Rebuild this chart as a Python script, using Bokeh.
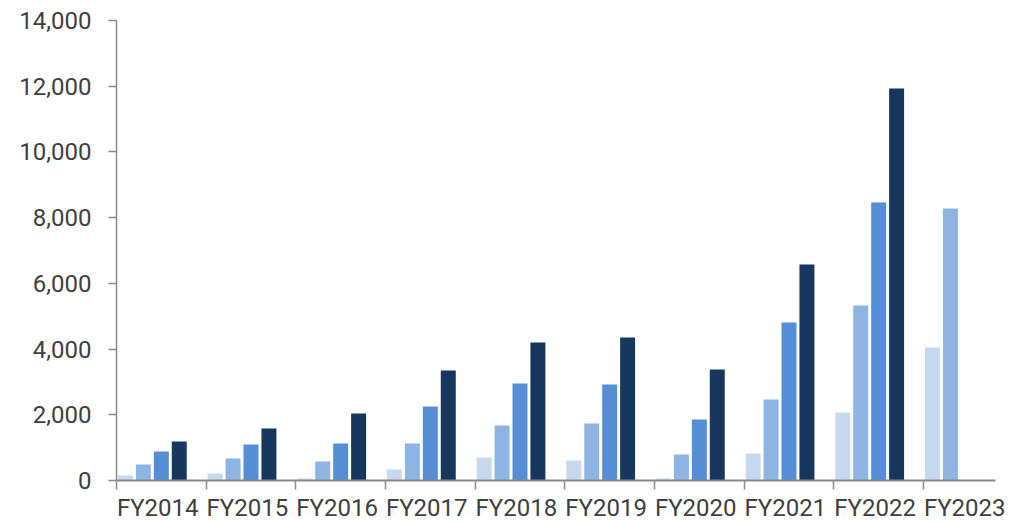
from bokeh.plotting import figure
from bokeh.models import Range1d, FixedTicker, NumeralTickFormatter, ColumnDataSource
from bokeh.transform import dodge
from bokeh.embed import file_html
from bokeh.resources import INLINE

nan = float("nan")
years = ["FY2014", "FY2015", "FY2016", "FY2017", "FY2018",
         "FY2019", "FY2020", "FY2021", "FY2022", "FY2023"]
series1 = [152, 213, 61, 335, 700, 609, 61, 822, 2070, 4048]
series2 = [487, 670, 578, 1126, 1674, 1735, 791, 2465, 5326, 8278]
series3 = [883, 1096, 1126, 2252, 2952, 2922, 1857, 4809, 8461, nan]
series4 = [1187, 1583, 2039, 3348, 4200, 4352, 3378, 6574, 11930, nan]
y_ticks = [0, 2000, 4000, 6000, 8000, 10000, 12000, 14000]

colors = ["#C6D9F1", "#8EB4E3", "#558ED5", "#17375E"]
offsets = [0.1, 0.3, 0.5, 0.7]

src = ColumnDataSource(dict(idx=list(range(len(years))),
                            s1=series1, s2=series2, s3=series3, s4=series4))

p = figure(width=1024, height=524, output_backend="svg", toolbar_location=None,
           x_range=Range1d(0, 9.803), y_range=Range1d(0, 14000),
           min_border_left=116, min_border_right=29, min_border_top=20,
           min_border_bottom=44)
p.outline_line_color = None
p.xgrid.visible = False
p.ygrid.visible = False

for k, (col, off) in enumerate(zip(["s1", "s2", "s3", "s4"], offsets)):
    p.vbar(x=dodge("idx", off), top=col, bottom=0, width=0.167, source=src,
           fill_color=colors[k], line_color=None)

font = "Roboto"
txt = "#404040"
axc = "#898989"

lab_pos = [i + 0.46 for i in range(len(years))]
p.xaxis.ticker = FixedTicker(ticks=lab_pos, minor_ticks=list(range(len(years))))
p.xaxis.major_label_overrides = {pos: y for pos, y in zip(lab_pos, years)}
p.xaxis.major_tick_line_color = None
p.xaxis.major_tick_out = 0
p.xaxis.major_tick_in = 0
p.xaxis.minor_tick_out = 9
p.xaxis.minor_tick_in = 0
p.xaxis.minor_tick_line_color = axc
p.xaxis.minor_tick_line_width = 1.5
p.xaxis.axis_line_color = axc
p.xaxis.axis_line_width = 2
p.xaxis.major_label_text_font = font
p.xaxis.major_label_text_font_size = "24px"
p.xaxis.major_label_text_color = txt
p.xaxis.major_label_standoff = 4

p.yaxis.ticker = FixedTicker(ticks=y_ticks)
p.yaxis.formatter = NumeralTickFormatter(format="0,0")
p.yaxis.major_tick_out = 8
p.yaxis.major_tick_in = 0
p.yaxis.minor_tick_line_color = None
p.yaxis.major_tick_line_color = axc
p.yaxis.major_tick_line_width = 1.5
p.yaxis.axis_line_color = axc
p.yaxis.axis_line_width = 1.5
p.yaxis.major_label_text_font = font
p.yaxis.major_label_text_font_size = "24px"
p.yaxis.major_label_text_color = txt
p.yaxis.major_label_standoff = 17

open("out.html", "w").write(file_html(p, INLINE))
